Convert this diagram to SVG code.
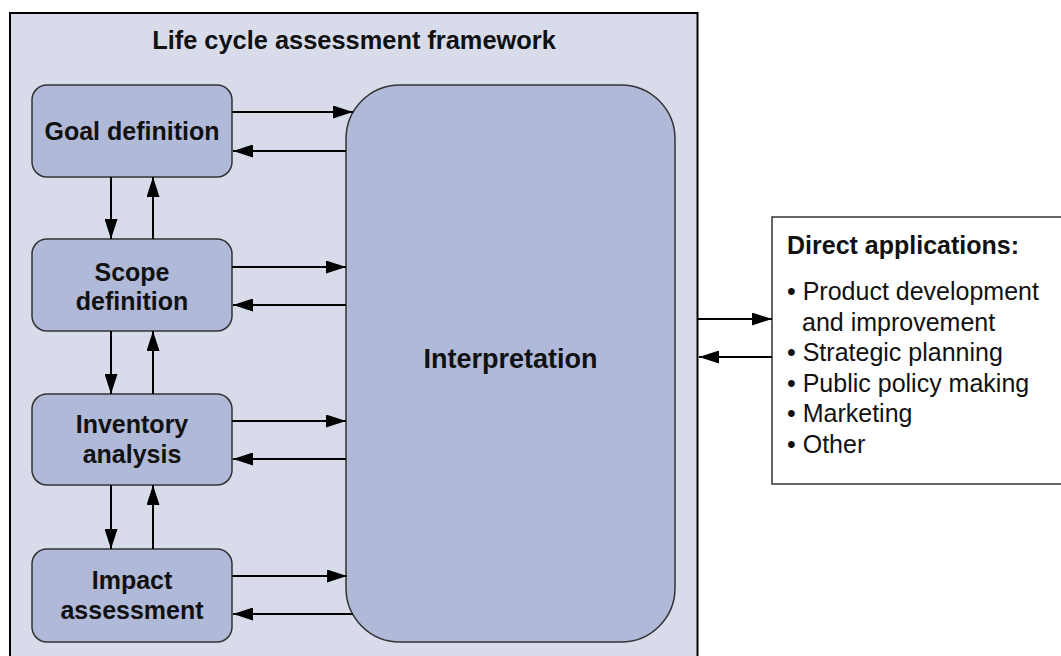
<svg xmlns="http://www.w3.org/2000/svg" width="1061" height="656" viewBox="0 0 1061 656">
<style>
.node{fill:#b0b9d8;stroke:#333;stroke-width:1.5}
.t{font-family:"Liberation Sans",Arial,sans-serif;font-size:25px;fill:#111}
.b{font-weight:bold}
.c{text-anchor:middle}
.ln{stroke:#000;stroke-width:2;fill:none;marker-end:url(#ah)}
</style>
<defs>
<marker id="ah" markerUnits="userSpaceOnUse" markerWidth="20" markerHeight="13" refX="20" refY="6.5" orient="auto">
<path d="M0,0 L20,6.5 L0,13 z" fill="#000"/>
</marker>
</defs>
<rect width="1061" height="656" fill="#fff"/>
<g id="frame">
<rect x="10" y="13" width="687.5" height="660" fill="#d8dcea" stroke="#000" stroke-width="2"/>
<text class="t b c" x="354" y="49" style="font-size:25.4px">Life cycle assessment framework</text>
</g>
<g id="goal">
<rect class="node" x="32" y="85" width="200" height="92" rx="15"/>
<text class="t b c" x="132" y="140">Goal definition</text>
</g>
<g id="scope">
<rect class="node" x="32" y="239" width="200" height="92" rx="15"/>
<text class="t b c" x="132" y="281">Scope</text>
<text class="t b c" x="132" y="310">definition</text>
</g>
<g id="inventory">
<rect class="node" x="32" y="394" width="200" height="91" rx="15"/>
<text class="t b c" x="132" y="433">Inventory</text>
<text class="t b c" x="132" y="463">analysis</text>
</g>
<g id="impact">
<rect class="node" x="32" y="549" width="200" height="93" rx="15"/>
<text class="t b c" x="132" y="589">Impact</text>
<text class="t b c" x="132" y="619">assessment</text>
</g>
<g id="interpretation">
<rect class="node" x="346" y="85" width="329" height="557" rx="54"/>
<text class="t b c" x="510.5" y="368" style="font-size:27px">Interpretation</text>
</g>
<g id="applications">
<rect x="772" y="217" width="300" height="267" fill="#fff" stroke="#333" stroke-width="1.5"/>
<text class="t b" x="787" y="254">Direct applications:</text>
<text class="t" x="787" y="300">• Product development</text>
<text class="t" x="802" y="330.5">and improvement</text>
<text class="t" x="787" y="361">• Strategic planning</text>
<text class="t" x="787" y="392">• Public policy making</text>
<text class="t" x="787" y="422">• Marketing</text>
<text class="t" x="787" y="453">• Other</text>
</g>
<g id="connectors">
<line class="ln" x1="232" y1="112" x2="353" y2="112"/>
<line class="ln" x1="346" y1="151" x2="233" y2="151"/>
<line class="ln" x1="232" y1="267" x2="346" y2="267"/>
<line class="ln" x1="346" y1="305" x2="233" y2="305"/>
<line class="ln" x1="232" y1="421" x2="346" y2="421"/>
<line class="ln" x1="346" y1="459" x2="233" y2="459"/>
<line class="ln" x1="232" y1="576" x2="347" y2="576"/>
<line class="ln" x1="353" y1="614" x2="233" y2="614"/>
<line class="ln" x1="111" y1="177" x2="111" y2="239"/>
<line class="ln" x1="153" y1="239" x2="153" y2="177"/>
<line class="ln" x1="111" y1="331" x2="111" y2="394"/>
<line class="ln" x1="153" y1="394" x2="153" y2="331"/>
<line class="ln" x1="111" y1="485" x2="111" y2="549"/>
<line class="ln" x1="153" y1="549" x2="153" y2="485"/>
<line class="ln" x1="698" y1="319" x2="772" y2="319"/>
<line class="ln" x1="772" y1="357" x2="699" y2="357"/>
</g>
</svg>
